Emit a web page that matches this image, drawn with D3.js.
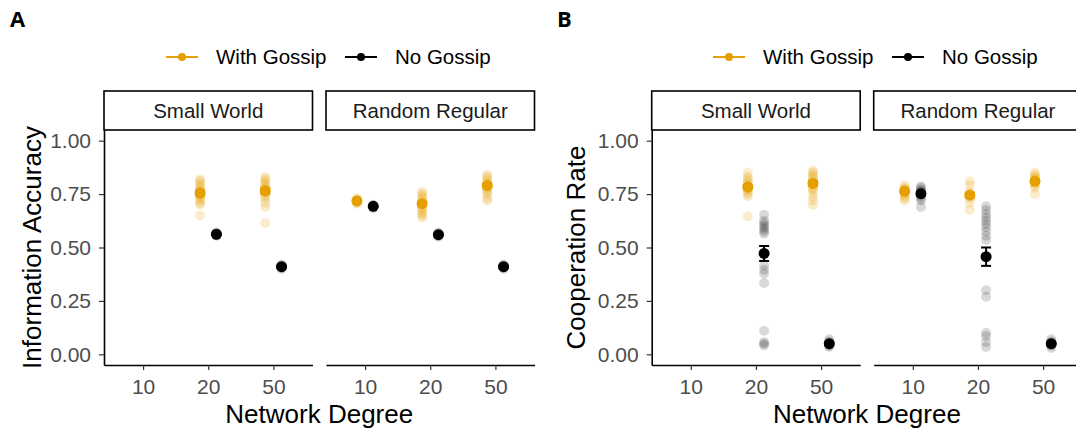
<!DOCTYPE html>
<html>
<head>
<meta charset="utf-8">
<script src="https://cdn.jsdelivr.net/npm/d3@7"></script>
<style>
  body { margin: 0; background: #fff; }
  text { font-family: "Liberation Sans", Arial, sans-serif; }
</style>
</head>
<body>
<div id="chart"></div>
<script>
// chart values
const degrees = ["10", "20", "50"]
const networks = ["Small World", "Random Regular"]
const groups = ["With Gossip", "No Gossip"]
const groupColors = ["#E69F00", "#000000"]
const yTicks = [0, 0.25, 0.5, 0.75, 1]

// Panel A - information accuracy, single runs: [network, degree, values]
const accGossipRuns = [
  ["Small World", "20", [0.82, 0.81, 0.80, 0.79, 0.78, 0.77, 0.76, 0.76, 0.75, 0.75, 0.74, 0.73, 0.72, 0.71, 0.70, 0.65]],
  ["Small World", "50", [0.83, 0.82, 0.81, 0.80, 0.79, 0.78, 0.77, 0.77, 0.76, 0.75, 0.74, 0.73, 0.71, 0.69, 0.615]],
  ["Random Regular", "10", [0.73, 0.725, 0.72, 0.715, 0.71, 0.705]],
  ["Random Regular", "20", [0.76, 0.75, 0.74, 0.73, 0.72, 0.71, 0.70, 0.69, 0.68, 0.67, 0.66, 0.65, 0.64]],
  ["Random Regular", "50", [0.84, 0.83, 0.82, 0.81, 0.80, 0.79, 0.78, 0.77, 0.76, 0.75, 0.73, 0.72]]
]
const accNoGossipRuns = [
  ["Small World", "20", [0.57, 0.565, 0.56, 0.56, 0.555]],
  ["Small World", "50", [0.42, 0.415, 0.41, 0.405, 0.40]],
  ["Random Regular", "10", [0.70, 0.695, 0.69, 0.685]],
  ["Random Regular", "20", [0.57, 0.565, 0.56, 0.555, 0.55]],
  ["Random Regular", "50", [0.42, 0.415, 0.41, 0.405, 0.40]]
]
// means: [network, degree, group, mean, se]
const accMeans = [
  ["Small World", "20", "With Gossip", 0.755, 0.012],
  ["Small World", "50", "With Gossip", 0.765, 0.014],
  ["Random Regular", "10", "With Gossip", 0.718, 0.004],
  ["Random Regular", "20", "With Gossip", 0.705, 0.01],
  ["Random Regular", "50", "With Gossip", 0.79, 0.01],
  ["Small World", "20", "No Gossip", 0.562, 0.004],
  ["Small World", "50", "No Gossip", 0.41, 0.004],
  ["Random Regular", "10", "No Gossip", 0.693, 0.004],
  ["Random Regular", "20", "No Gossip", 0.56, 0.004],
  ["Random Regular", "50", "No Gossip", 0.41, 0.004]
]

// Panel B - cooperation rate, single runs
const coopGossipRuns = [
  ["Small World", "20", [0.85, 0.83, 0.82, 0.81, 0.80, 0.79, 0.78, 0.77, 0.76, 0.75, 0.74, 0.645]],
  ["Small World", "50", [0.86, 0.85, 0.84, 0.83, 0.82, 0.81, 0.80, 0.79, 0.78, 0.77, 0.76, 0.74, 0.72, 0.70]],
  ["Random Regular", "10", [0.79, 0.78, 0.775, 0.77, 0.765, 0.76, 0.75, 0.74, 0.73, 0.72]],
  ["Random Regular", "20", [0.81, 0.79, 0.76, 0.75, 0.73, 0.71, 0.675]],
  ["Random Regular", "50", [0.85, 0.84, 0.83, 0.825, 0.82, 0.81, 0.80, 0.79, 0.78, 0.75]]
]
const coopNoGossipRuns = [
  ["Small World", "20", [0.653, 0.625, 0.615, 0.605, 0.595, 0.585, 0.575, 0.565, 0.416, 0.396, 0.378, 0.334, 0.11, 0.057, 0.05, 0.042]],
  ["Small World", "50", [0.07, 0.06, 0.055, 0.05, 0.045, 0.04, 0.035]],
  ["Random Regular", "10", [0.785, 0.78, 0.77, 0.765, 0.76, 0.755, 0.75, 0.74, 0.73, 0.72, 0.69]],
  ["Random Regular", "20", [0.693, 0.675, 0.657, 0.64, 0.625, 0.61, 0.595, 0.575, 0.555, 0.535, 0.30, 0.27, 0.10, 0.085, 0.057, 0.034]],
  ["Random Regular", "50", [0.07, 0.06, 0.055, 0.05, 0.045, 0.04, 0.03]]
]
const coopMeans = [
  ["Small World", "20", "With Gossip", 0.783, 0.01],
  ["Small World", "50", "With Gossip", 0.80, 0.012],
  ["Random Regular", "10", "With Gossip", 0.763, 0.006],
  ["Random Regular", "20", "With Gossip", 0.745, 0.012],
  ["Random Regular", "50", "With Gossip", 0.81, 0.008],
  ["Small World", "20", "No Gossip", 0.472, 0.035],
  ["Small World", "50", "No Gossip", 0.05, 0.004],
  ["Random Regular", "10", "No Gossip", 0.752, 0.008],
  ["Random Regular", "20", "No Gossip", 0.457, 0.043],
  ["Random Regular", "50", "No Gossip", 0.05, 0.004]
]

let svgWidth = 1076
let svgHeight = 429
let facetWidth = 208.5
let facetGap = 13.5
let plotTop = 130
let plotBottom = 365
let stripTop = 91

let svg = d3.select("#chart")
  .append("svg")
  .attr("width", svgWidth)
  .attr("height", svgHeight)

let y = d3.scaleLinear()
  .domain([-0.05, 1.05])
  .range([plotBottom, plotTop])

function drawPanel(left, label, labelX, yTitle, yTitleX, gossipRuns, noGossipRuns, means, legendX) {
  let panel = svg.append("g")

  // panel letter
  panel.append("text")
    .attr("x", labelX)
    .attr("y", 27)
    .style("font-family", "'Open Sans', sans-serif")
    .style("font-weight", "bold")
    .style("font-size", "22px")
    .text(label)

  // legend
  let legendItems = [
    {name: groups[0], color: groupColors[0], x: legendX},
    {name: groups[1], color: groupColors[1], x: legendX + 179}
  ]
  legendItems.forEach(function(it) {
    panel.append("line")
      .attr("x1", it.x).attr("x2", it.x + 32)
      .attr("y1", 57).attr("y2", 57)
      .attr("stroke", it.color).attr("stroke-width", 2)
    panel.append("circle")
      .attr("cx", it.x + 16).attr("cy", 57).attr("r", 4)
      .attr("fill", it.color)
    panel.append("text")
      .attr("x", it.x + 50).attr("y", 64)
      .style("font-size", "20.5px")
      .text(it.name)
  })

  networks.forEach(function(net, i) {
    let fx = left + i * (facetWidth + facetGap)
    let x = d3.scalePoint()
      .domain(degrees)
      .range([fx, fx + facetWidth])
      .padding(0.6)
    let dodge = x.step() * 0.125

    // strip
    panel.append("rect")
      .attr("x", fx).attr("y", stripTop)
      .attr("width", facetWidth).attr("height", plotTop - stripTop)
      .attr("fill", "#fff").attr("stroke", "#000").attr("stroke-width", 1.6)
    panel.append("text")
      .attr("x", fx + facetWidth / 2).attr("y", 117.5)
      .attr("text-anchor", "middle")
      .style("font-size", "20.5px")
      .style("fill", "#1a1a1a")
      .text(net)

    // axes
    let xAxis = panel.append("g")
      .attr("transform", `translate(0,${plotBottom})`)
      .call(d3.axisBottom(x).tickSize(5).tickSizeOuter(0).tickPadding(9))
    xAxis.selectAll("text").style("font-size", "21px").style("fill", "#4d4d4d")
    if (i == 0) {
      let yAxis = panel.append("g")
        .attr("transform", `translate(${fx},0)`)
        .call(d3.axisLeft(y).tickValues(yTicks).tickFormat(d3.format(".2f")).tickSize(5).tickSizeOuter(0).tickPadding(8))
      yAxis.selectAll("text").style("font-size", "21px").style("fill", "#4d4d4d")
      yAxis.select(".domain").attr("stroke-width", 1.6)
    }
    xAxis.select(".domain").attr("stroke-width", 1.6)
    panel.selectAll(".tick line").attr("stroke", "#333").attr("stroke-width", 1.2)

    // single runs
    let runSets = [gossipRuns, noGossipRuns]
    runSets.forEach(function(runs, gi) {
      let off = gi == 0 ? -dodge : dodge
      runs.filter(r => r[0] == net).forEach(function(r) {
        panel.selectAll(null)
          .data(r[2])
          .enter()
          .append("circle")
          .attr("cx", x(r[1]) + off)
          .attr("cy", d => y(d))
          .attr("r", 5)
          .attr("fill", groupColors[gi])
          .attr("opacity", gi == 0 ? 0.2 : 0.15)
      })
    })

    // means with error bars
    means.filter(m => m[0] == net).forEach(function(m) {
      let gi = groups.indexOf(m[2])
      let cx = x(m[1]) + (gi == 0 ? -dodge : dodge)
      let col = groupColors[gi]
      panel.append("line")
        .attr("x1", cx).attr("x2", cx)
        .attr("y1", y(m[3] - m[4])).attr("y2", y(m[3] + m[4]))
        .attr("stroke", col).attr("stroke-width", 2)
      ;[m[3] - m[4], m[3] + m[4]].forEach(function(v) {
        panel.append("line")
          .attr("x1", cx - 5).attr("x2", cx + 5)
          .attr("y1", y(v)).attr("y2", y(v))
          .attr("stroke", col).attr("stroke-width", 2)
      })
      panel.append("circle")
        .attr("cx", cx).attr("cy", y(m[3])).attr("r", 5.5)
        .attr("fill", col)
    })
  })

  // axis titles
  panel.append("text")
    .attr("transform", `translate(${yTitleX},${(plotTop + plotBottom) / 2}) rotate(-90)`)
    .attr("text-anchor", "middle")
    .style("font-size", "26px")
    .text(yTitle)
  panel.append("text")
    .attr("x", left + facetWidth + facetGap / 2)
    .attr("y", 423)
    .attr("text-anchor", "middle")
    .style("font-size", "26px")
    .text("Network Degree")
}

drawPanel(104, "A", 10, "Information Accuracy", 41, accGossipRuns, accNoGossipRuns, accMeans, 166)
drawPanel(651.7, "B", 557, "Cooperation Rate", 585, coopGossipRuns, coopNoGossipRuns, coopMeans, 713)
</script>
</body>
</html>
